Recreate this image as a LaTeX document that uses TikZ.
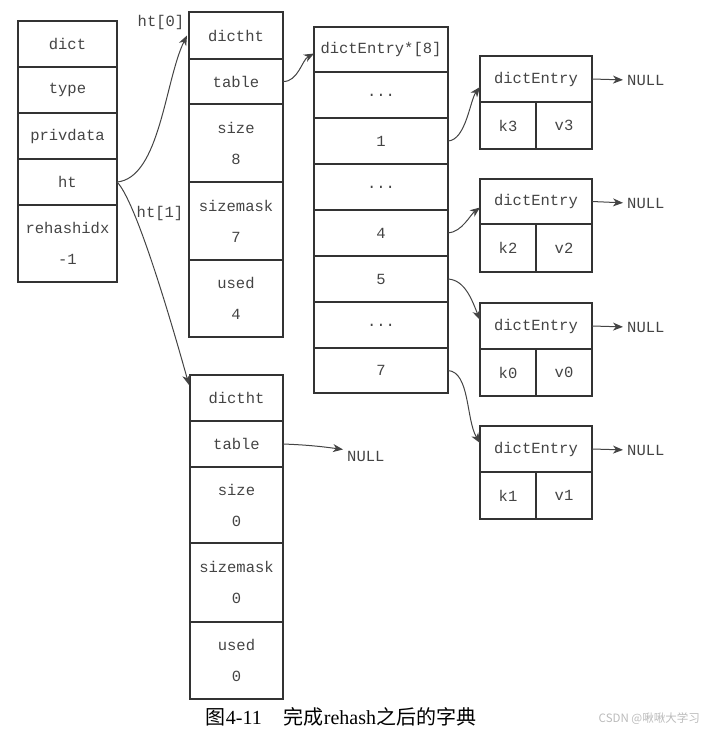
\documentclass[tikz,border=0pt]{standalone}
\usepackage{fontspec}
\setmonofont{Liberation Mono}
\newfontfamily\capserif{Liberation Serif}
\newfontfamily\cjk{Noto Sans CJK SC}
\usetikzlibrary{arrows.meta}
\definecolor{ln}{HTML}{333333}
\definecolor{tx}{HTML}{444444}
\definecolor{wmc}{HTML}{BBBBBB}
\tikzset{
  cellbox/.style={draw=ln, line width=2.6pt, inner sep=0pt, outer sep=0pt,
    font=\ttfamily\fontsize{15.5}{31}\selectfont, text=tx, align=center},
  conn/.style={draw=tx, line width=1pt, -{Stealth[length=10pt,width=8pt,inset=3pt]}},
  lbl/.style={font=\ttfamily\fontsize{15.5}{18}\selectfont, text=tx, inner sep=0pt},
}
\newcommand\mkcell[6]{\node[cellbox, minimum width={#4-#2}, minimum height={#5-#3}] (#1) at ({(#2+#4)/2},{(#3+#5)/2}) {#6};}
\begin{document}
\begin{tikzpicture}[x=1pt,y=-1pt]
\useasboundingbox (0,0) rectangle (709,734);
% dict
\mkcell{d0}{18}{21}{117}{67}{dict}
\mkcell{d1}{18}{67}{117}{113}{type}
\mkcell{d2}{18}{113}{117}{159}{privdata}
\mkcell{d3}{18}{159}{117}{205}{ht}
\mkcell{d4}{18}{205}{117}{282}{rehashidx\\-1}
% dictht 0
\mkcell{a0}{189}{12}{283}{59}{dictht}
\mkcell{a1}{189}{59}{283}{104}{table}
\mkcell{a2}{189}{104}{283}{182}{size\\8}
\mkcell{a3}{189}{182}{283}{260}{sizemask\\7}
\mkcell{a4}{189}{260}{283}{337}{used\\4}
% dictht 1
\mkcell{b0}{190}{375}{283}{421}{dictht}
\mkcell{b1}{190}{421}{283}{467}{table}
\mkcell{b2}{190}{467}{283}{543}{size\\0}
\mkcell{b3}{190}{543}{283}{622}{sizemask\\0}
\mkcell{b4}{190}{622}{283}{699}{used\\0}
% table array
\mkcell{t0}{314}{27}{448}{72}{dictEntry*[8]}
\mkcell{t1}{314}{72}{448}{118}{...}
\mkcell{t2}{314}{118}{448}{164}{1}
\mkcell{t3}{314}{164}{448}{210}{...}
\mkcell{t4}{314}{210}{448}{256}{4}
\mkcell{t5}{314}{256}{448}{302}{5}
\mkcell{t6}{314}{302}{448}{348}{...}
\mkcell{t7}{314}{348}{448}{393}{7}
% entries
\mkcell{e1a}{480}{56}{592}{102}{dictEntry}
\mkcell{e1k}{480}{102}{536}{149}{k3}
\mkcell{e1v}{536}{102}{592}{149}{v3}
\mkcell{e2a}{480}{179}{592}{224}{dictEntry}
\mkcell{e2k}{480}{224}{536}{272}{k2}
\mkcell{e2v}{536}{224}{592}{272}{v2}
\mkcell{e3a}{480}{303}{592}{349}{dictEntry}
\mkcell{e3k}{480}{349}{536}{396}{k0}
\mkcell{e3v}{536}{349}{592}{396}{v0}
\mkcell{e4a}{480}{426}{592}{472}{dictEntry}
\mkcell{e4k}{480}{472}{536}{519}{k1}
\mkcell{e4v}{536}{472}{592}{519}{v1}
% NULL labels
\node[lbl, anchor=west] (n1) at (627,80) {NULL};
\node[lbl, anchor=west] (n2) at (627,203) {NULL};
\node[lbl, anchor=west] (n3) at (627,327) {NULL};
\node[lbl, anchor=west] (n4) at (627,450) {NULL};
\node[lbl, anchor=west] (nb) at (347,456) {NULL};
\draw[conn, shorten >=4pt] (e1a.east) -- (n1.west);
\draw[conn, shorten >=4pt] (e2a.east) -- (n2.west);
\draw[conn, shorten >=4pt] (e3a.east) -- (n3.west);
\draw[conn, shorten >=4pt] (e4a.east) -- (n4.west);
\draw[conn, shorten >=4pt] (b1.east) .. controls (310,445) and (325,447) .. ([yshift=6pt]nb.west);
% labels
\node[lbl] (l0) at (161,22) {ht[0]};
\node[lbl] (l1) at (160,213) {ht[1]};
% connectors
\draw[conn] (d3.east) .. controls (160,178) and (165,80) .. ([xshift=-2pt]a0.west);
\draw[conn] (d3.east) .. controls (135,200) and (168,310) .. ([xshift=-1pt,yshift=13pt]b0.west);
\draw[conn] (a1.east) .. controls (298,82) and (302,60) .. ([yshift=-4pt]t0.west);
\draw[conn] (t2.east) .. controls (466,140) and (470,100) .. ([yshift=-8pt]e1a.west);
\draw[conn] (t4.east) .. controls (462,232) and (470,215) .. ([yshift=-6pt]e2a.west);
\draw[conn] (t5.east) .. controls (465,280) and (472,300) .. ([yshift=6pt]e3a.west);
\draw[conn] (t7.east) .. controls (470,372) and (466,420) .. ([yshift=6pt]e4a.west);
% caption
\node[text=black, inner sep=0pt, font=\fontsize{20}{22}\selectfont] (cap) at (341,717)
  {\cjk 图\capserif 4-11\hspace{22pt}\cjk 完成\capserif rehash\cjk 之后的字典};
\node[text=wmc, inner sep=0pt, anchor=east, font=\cjk\fontsize{11.5}{12}\selectfont] (wm) at (700,719) {CSDN @啾啾大学习};
\end{tikzpicture}
\end{document}
